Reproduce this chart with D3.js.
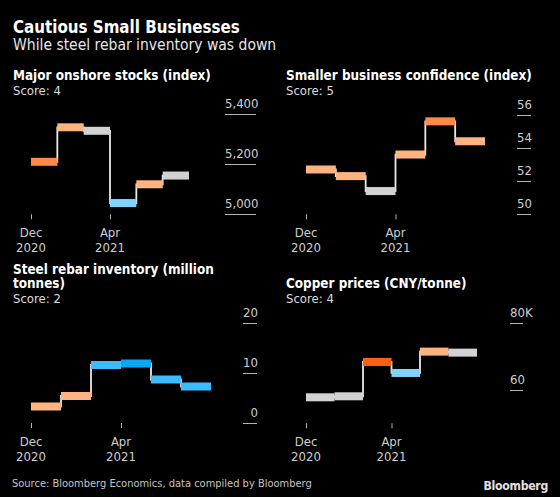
<!DOCTYPE html>
<html><head><meta charset="utf-8">
<script src="https://cdn.jsdelivr.net/npm/d3@7"></script>
<style>
html,body{margin:0;padding:0;background:#000;}
svg{display:block;}
text{font-family:"DejaVu Sans Condensed","DejaVu Sans",sans-serif;}
</style></head>
<body>
<svg id="c" width="560" height="497"></svg>
<script>
// ---- data ----
const periods = [0, 1, 2, 3, 4, 5];
const xTickPositions = [0, 3];
const xTickLabels = [["Dec", "2020"], ["Apr", "2021"]];

const stocksValues = [5210, 5348, 5334, 5045, 5120, 5155];
const stocksColors = ["mid", "peach", "grey", "lblue", "peach", "grey"];
const stocksTicks = [5000, 5200, 5400];
const stocksTickLabels = ["5,000", "5,200", "5,400"];

const confidenceValues = [52.7, 52.3, 51.4, 53.6, 55.6, 54.4];
const confidenceColors = ["peach", "peach", "grey", "peach", "mid", "peach"];
const confidenceTicks = [50, 52, 54, 56];
const confidenceTickLabels = ["50", "52", "54", "56"];

const rebarValues = [3.3, 5.4, 11.6, 11.9, 8.7, 7.3];
const rebarColors = ["peach", "peach", "blue", "dblue", "blue", "blue"];
const rebarTicks = [0, 10, 20];
const rebarTickLabels = ["0", "10", "20"];

const copperValues = [57.8, 58.1, 68.4, 65.1, 71.5, 71.2];
const copperColors = ["grey", "grey", "deep", "lblue", "peach", "grey"];
const copperTicks = [60, 80];
const copperTickLabels = ["60", "80K"];

const palette = {
  peach: "#ffb380", mid: "#ff8a45", deep: "#ff6010", grey: "#d2d2d2",
  lblue: "#80d2ff", blue: "#3cbcff", dblue: "#0aa6f8"
};

const svg = d3.select("#c");

// header
svg.append("text").attr("x", 13).attr("y", 33).attr("fill", "#fff")
  .attr("font-weight", "bold").attr("font-size", 16.8).text("Cautious Small Businesses");
svg.append("text").attr("x", 13).attr("y", 50).attr("fill", "#e6e6e6")
  .attr("font-size", 15.5).text("While steel rebar inventory was down");

function panel(cfg) {
  const g = svg.append("g");
  cfg.title.forEach((t, i) => {
    g.append("text").attr("x", cfg.tx).attr("y", cfg.titleY + i * 14.5)
      .attr("fill", "#fff").attr("font-weight", "bold").attr("font-size", 13.4).text(t);
  });
  g.append("text").attr("x", cfg.tx).attr("y", cfg.scoreY)
    .attr("fill", "#dcdcdc").attr("font-size", 13).text(cfg.score);

  const x = d3.scaleLinear().domain([0, periods.length]).range(cfg.xr);
  const y = d3.scaleLinear().domain(cfg.domain).range(cfg.yr);

  // y ticks
  cfg.ticks.forEach((t, i) => {
    const yy = Math.round(y(t)) + 0.5;
    g.append("line").attr("x1", cfg.ax[0]).attr("x2", cfg.ax[1])
      .attr("y1", yy).attr("y2", yy).attr("stroke", "#b4b4b4").attr("stroke-width", 1);
    const tx = g.append("text").attr("y", yy - 6.5).attr("fill", "#cfcfcf")
      .attr("font-size", 13).text(cfg.tickLabels[i]);
    const w = tx.node().getComputedTextLength();
    tx.attr("x", Math.max(cfg.ax[0], cfg.ax[1] + 1 - w));
  });

  // x axis
  const xa = d3.axisBottom(x).tickValues(xTickPositions).tickSize(5).tickFormat("");
  const axg = g.append("g").attr("transform", `translate(0,${cfg.yr[0]})`).call(xa);
  axg.select(".domain").remove();
  axg.selectAll(".tick line").attr("stroke", "#b4b4b4");
  xTickPositions.forEach((p, i) => {
    xTickLabels[i].forEach((l, j) => {
      g.append("text").attr("x", x(p)).attr("y", cfg.yr[0] + 23 + j * 15)
        .attr("text-anchor", "middle").attr("fill", "#cfcfcf").attr("font-size", 13).text(l);
    });
  });

  // step connector
  const pts = periods.map(i => [i, cfg.values[i]]);
  pts.push([periods.length, cfg.values[cfg.values.length - 1]]);
  const line = d3.line().x(d => x(d[0])).y(d => y(d[1])).curve(d3.curveStepAfter);
  g.append("path").attr("d", line(pts)).attr("fill", "none")
    .attr("stroke", "#e8e8e8").attr("stroke-width", 1.8);

  // bars
  g.selectAll("rect.b").data(periods).join("rect").attr("class", "b")
    .attr("x", i => x(i)).attr("width", i => x(i + 1) - x(i))
    .attr("y", i => y(cfg.values[i]) - 4).attr("height", 8)
    .attr("fill", i => palette[cfg.colors[i]]);
}

panel({ title: ["Major onshore stocks (index)"], score: "Score: 4", tx: 13, titleY: 80, scoreY: 95,
  values: stocksValues, colors: stocksColors, ticks: stocksTicks, tickLabels: stocksTickLabels,
  domain: [5000, 5400], yr: [214.3, 114.3], xr: [31, 189], ax: [225, 256] });
panel({ title: ["Smaller business confidence (index)"], score: "Score: 5", tx: 286, titleY: 80, scoreY: 95,
  values: confidenceValues, colors: confidenceColors, ticks: confidenceTicks, tickLabels: confidenceTickLabels,
  domain: [50, 56], yr: [214.3, 114.7], xr: [306, 485], ax: [517, 531] });
panel({ title: ["Steel rebar inventory (million", "tonnes)"], score: "Score: 2", tx: 13, titleY: 273.5, scoreY: 303,
  values: rebarValues, colors: rebarColors, ticks: rebarTicks, tickLabels: rebarTickLabels,
  domain: [0, 20], yr: [423, 323], xr: [31, 211], ax: [243, 257] });
panel({ title: ["Copper prices (CNY/tonne)"], score: "Score: 4", tx: 286, titleY: 288, scoreY: 303,
  values: copperValues, colors: copperColors, ticks: copperTicks, tickLabels: copperTickLabels,
  domain: [50, 80], yr: [423.3, 323.3], xr: [306, 477], ax: [510, 523] });

// footer
svg.append("text").attr("x", 12).attr("y", 487).attr("fill", "#c4c4c4")
  .attr("font-size", 11).text("Source: Bloomberg Economics, data compiled by Bloomberg");
svg.append("text").attr("x", 548).attr("y", 490).attr("text-anchor", "end").attr("fill", "#e0e0e0")
  .attr("font-weight", "bold").attr("font-size", 12.2).attr("letter-spacing", -0.3).text("Bloomberg");
</script>
</body></html>
